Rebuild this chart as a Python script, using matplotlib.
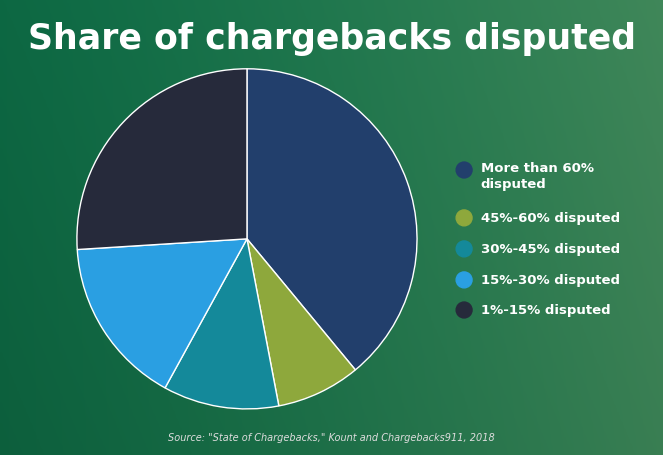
import numpy as np
import matplotlib.pyplot as plt
from matplotlib.patches import Ellipse

labels = ['More than 60%\ndisputed', '45%-60% disputed', '30%-45% disputed',
          '15%-30% disputed', '1%-15% disputed']
shares = [39, 8, 11, 16, 26]
colors = ['#223f6c', '#8ea83c', '#14899a', '#2a9fe2', '#262a3b']

fig = plt.figure(figsize=(6.63, 4.56), dpi=100)

# tinted background standing in for the photo
bg = fig.add_axes([0, 0, 1, 1])
x = np.linspace(0, 1, 200)
X, Y = np.meshgrid(x, x)
g = 0.35 + 0.35 * X + 0.1 * Y
img = np.dstack([0.05 + 0.25 * g * X, 0.25 + 0.35 * g, 0.15 + 0.25 * g])
bg.imshow(np.clip(img, 0, 1), extent=[0, 1, 0, 1], aspect='auto', origin='lower')
bg.axis('off')

fig.text(0.5, 0.915, 'Share of chargebacks disputed', ha='center', va='center',
         color='white', fontsize=25, fontweight='bold')

ax = fig.add_axes([0.116, 0.101, 0.513, 0.746])
ax.pie(shares, colors=colors, startangle=90, counterclock=False,
       wedgeprops=dict(edgecolor='white', linewidth=1))
ax.set_xlim(-1.0, 1.0)
ax.set_ylim(-1.0, 1.0)

ys = [0.625, 0.52, 0.452, 0.384, 0.318]
for lab, c, yy in zip(labels, colors, ys):
    fig.patches.append(Ellipse((0.70, yy), 0.024, 0.024 * 663 / 456, color=c,
                               transform=fig.transFigure, figure=fig))
    fig.text(0.725, yy + (0.02 if '\n' in lab else 0), lab, color='white',
             fontsize=9.5, fontweight='bold', ha='left',
             va='top' if '\n' in lab else 'center', linespacing=1.3)

fig.text(0.5, 0.04, 'Source: "State of Chargebacks," Kount and Chargebacks911, 2018',
         ha='center', va='center', color='#dddddd', fontsize=7, style='italic')

fig.savefig('out.png', dpi=100)
